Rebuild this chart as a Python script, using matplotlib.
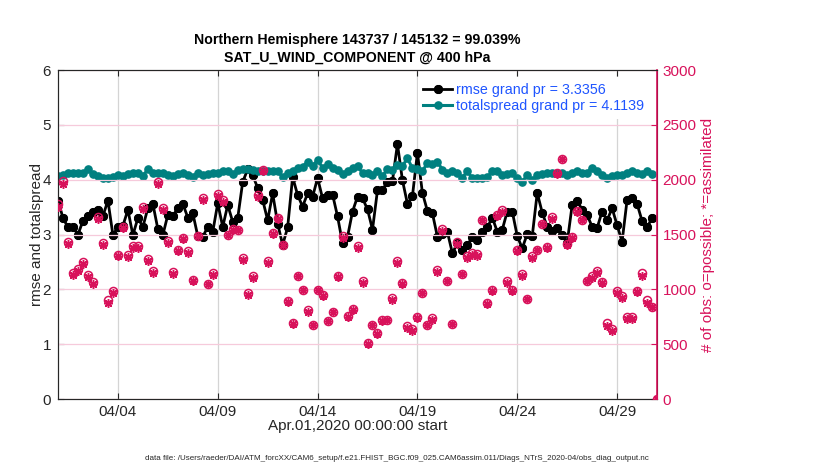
import numpy as np
import pandas as pd
import matplotlib
matplotlib.use("Agg")
import matplotlib.pyplot as plt
import matplotlib.dates as mdates

plt.rcParams['font.family'] = ['Liberation Sans', 'DejaVu Sans']

# 6-hourly bins, Apr 1 00Z .. May 1 00Z
times = pd.date_range("2020-04-01 00:00", periods=121, freq="6h")

rmse = [3.62, 3.30, 3.13, 3.14, 3.00, 3.25, 3.33, 3.42, 3.45, 3.34,
        3.62, 2.99, 3.14, 3.16, 3.45, 2.99, 3.30, 3.14, 3.48, 3.56,
        3.10, 2.99, 3.36, 3.34, 3.48, 3.56, 3.31, 3.39, 2.97, 2.96,
        3.14, 3.05, 3.57, 3.14, 3.54, 3.23, 3.30, 3.96, 4.19, 4.08,
        3.85, 3.63, 3.26, 3.75, 3.20, 2.81, 3.13, 4.05, 3.72, 3.51,
        3.75, 3.69, 4.03, 3.66, 3.73, 3.73, 3.33, 2.84, 2.96, 3.42,
        3.69, 3.66, 3.46, 3.09, 3.81, 3.82, 3.96, 3.98, 4.65, 3.99,
        3.56, 3.70, 4.49, 3.76, 3.43, 3.39, 2.96, 3.01, 3.05, 2.66,
        2.84, 2.72, 2.81, 2.95, 2.90, 3.05, 3.13, 3.31, 3.05, 3.09,
        3.42, 3.42, 2.97, 2.75, 3.01, 2.97, 3.76, 3.40, 3.14, 3.07,
        3.11, 2.99, 2.85, 3.54, 3.62, 3.45, 3.36, 3.14, 3.12, 3.42,
        3.26, 3.48, 3.17, 2.87, 3.63, 3.67, 3.56, 3.25, 3.13, 3.30,
        np.nan]

spread = [4.07, 4.09, 4.12, 4.12, 4.13, 4.13, 4.19, 4.10, 4.07, 4.04,
          4.03, 4.05, 4.09, 4.07, 4.10, 4.13, 4.12, 4.07, 4.19, 4.12,
          4.12, 4.12, 4.09, 4.07, 4.10, 4.12, 4.09, 4.05, 4.13, 4.09,
          4.10, 4.12, 4.13, 4.15, 4.15, 4.10, 4.18, 4.19, 4.19, 4.18,
          4.16, 4.16, 4.16, 4.15, 4.15, 4.05, 4.12, 4.15, 4.21, 4.24,
          4.32, 4.25, 4.36, 4.22, 4.28, 4.21, 4.18, 4.10, 4.15, 4.21,
          4.25, 4.12, 4.13, 4.09, 4.16, 4.07, 4.19, 4.18, 4.27, 4.25,
          4.39, 4.21, 4.19, 4.15, 4.31, 4.28, 4.33, 4.18, 4.13, 4.15,
          4.12, 4.04, 4.15, 4.03, 4.03, 4.04, 4.05, 4.15, 4.15, 4.09,
          4.10, 4.12, 4.03, 3.96, 4.09, 3.99, 4.09, 4.10, 4.12, 4.12,
          4.12, 4.13, 4.09, 4.13, 4.16, 4.13, 4.13, 4.22, 4.16, 4.09,
          4.04, 4.07, 4.09, 4.09, 4.12, 4.16, 4.13, 4.10, 4.15, 4.10,
          np.nan]

nposs = [1775, 1985, 1430, 1147, 1186, 1253, 1132, 1065, 1658, 1424,
         900, 985, 1315, 1565, 1317, 1393, 1393, 1749, 1278, 1171,
         1977, 1740, 1445, 1155, 1360, 1470, 1353, 1085, 1490, 1831,
         1052, 1148, 1870, 1812, 1500, 1552, 1545, 1284, 968, 1126,
         1861, 2085, 1262, 1515, 1652, 1408, 890, 692, 1125, 996,
         815, 677, 996, 945, 713, 798, 1125, 1485, 753, 820,
         1393, 1074, 510, 677, 601, 719, 722, 919, 1262, 1058,
         664, 639, 745, 968, 677, 737, 1177, 1548, 1078, 686,
         1436, 1142, 1308, 1332, 1323, 1635, 875, 993, 1680, 1726,
         1080, 993, 1355, 1141, 912, 1308, 1362, 1598, 1382, 1658,
         2058, 2190, 1412, 1478, 1712, 1636, 1079, 1126, 1165, 1067,
         690, 636, 986, 940, 750, 748, 981, 1146, 900, 843,
         0]

nused = [1750, 1960, 1410, 1127, 1166, 1233, 1112, 1045, 1640, 1404,
         875, 963, 1300, 1560, 1297, 1373, 1373, 1729, 1258, 1151,
         1957, 1726, 1425, 1138, 1348, 1462, 1335, 1075, 1484, 1811,
         1046, 1134, 1850, 1800, 1492, 1544, 1537, 1264, 950, 1106,
         1841, 2079, 1242, 1507, 1644, 1400, 885, 688, 1119, 992,
         795, 673, 992, 939, 709, 794, 1115, 1465, 749, 816,
         1373, 1054, 506, 673, 597, 715, 718, 899, 1242, 1052,
         644, 619, 739, 964, 673, 717, 1157, 1528, 1074, 682,
         1416, 1138, 1288, 1312, 1303, 1629, 871, 989, 1670, 1706,
         1060, 989, 1349, 1121, 908, 1288, 1356, 1592, 1378, 1638,
         2052, 2186, 1406, 1472, 1704, 1628, 1073, 1106, 1145, 1061,
         670, 616, 966, 920, 730, 728, 977, 1126, 880, 837,
         0]

rmse_grand = 3.3356
spread_grand = 4.1139
n_used = 143737
n_poss = 145132

magenta = '#d8125b'
teal = '#008080'
dark = '#262626'

fig = plt.figure(figsize=(8.3, 4.7), dpi=100)
ax = fig.add_axes([0.0699, 0.151, 0.7217, 0.700])
ax2 = ax.twinx()

l1, = ax.plot(times, rmse, '-', color='black', lw=2,
              marker=(8, 2, 0), ms=6.5, mew=2.0, label='rmse grand pr = %.4f' % rmse_grand)
l2, = ax.plot(times, spread, '-', color=teal, lw=2.2,
              marker='o', ms=5.2, mec=teal, label='totalspread grand pr = %.4f' % spread_grand)

ax2.plot(times, nposs, 'o', color=magenta, mfc='none', ms=5.8, mew=1.1, zorder=3)
ax2.plot(times, nused, linestyle='none', color=magenta, marker=(8, 2, 0), ms=6.2, mew=1.1, zorder=3)

ax.set_xlim(times[0], times[-1])
ax.set_ylim(0, 6)
ax2.set_ylim(0, 3000)
ax.set_yticks(range(0, 7))
ax2.set_yticks(range(0, 3001, 500))

ax.xaxis.set_major_locator(mdates.DayLocator(bymonthday=[4, 9, 14, 19, 24, 29]))
ax.xaxis.set_major_formatter(mdates.DateFormatter('%m/%d'))

ax.grid(axis='x', color='#d4d4d4', lw=0.9)
ax2.grid(axis='y', color='#f6cadb', lw=0.9)
ax.set_axisbelow(True)
ax2.set_axisbelow(True)

ax.tick_params(axis='both', direction='in', labelsize=11, length=4,
               top=True, colors=dark)
ax.tick_params(axis='x', pad=4)
ax.tick_params(axis='y', pad=5)
ax2.tick_params(axis='y', direction='in', labelsize=11, length=4,
                colors=magenta, labelcolor=magenta, pad=4)
for s in ['left', 'bottom', 'top']:
    ax.spines[s].set_color(dark)
    ax2.spines[s].set_color(dark)
ax2.spines['right'].set_color(magenta)
ax2.spines['right'].set_linewidth(1.2)

ax.set_ylabel('rmse and totalspread', fontsize=11, color=dark, labelpad=-1)
ax2.set_ylabel('# of obs: o=possible; *=assimilated', fontsize=11, color=magenta, labelpad=3)
ax.set_xlabel('Apr.01,2020 00:00:00 start', fontsize=11, color=dark, labelpad=0)

ax.set_title('Northern Hemisphere %d / %d = %.3f%%\nSAT_U_WIND_COMPONENT @ 400 hPa'
             % (n_used, n_poss, 100.0 * n_used / n_poss),
             fontsize=10.2, fontweight='bold', linespacing=1.3, pad=6)

leg = ax2.legend(handles=[l1, l2], loc='upper right', fontsize=10.3, frameon=True,
                 handlelength=2.0, handletextpad=0.3, borderaxespad=0.5,
                 labelspacing=0.15, fancybox=False)
leg.get_frame().set_edgecolor('none')
leg.get_frame().set_facecolor('white')
leg.get_frame().set_alpha(1.0)
for t in leg.get_texts():
    t.set_color('#1f55ff')

fig.text(0.478, 0.025,
         'data file: /Users/raeder/DAI/ATM_forcXX/CAM6_setup/f.e21.FHIST_BGC.f09_025.CAM6assim.011/Diags_NTrS_2020-04/obs_diag_output.nc',
         ha='center', va='center', fontsize=5.8, color=dark)

fig.savefig('out.png', dpi=100)
